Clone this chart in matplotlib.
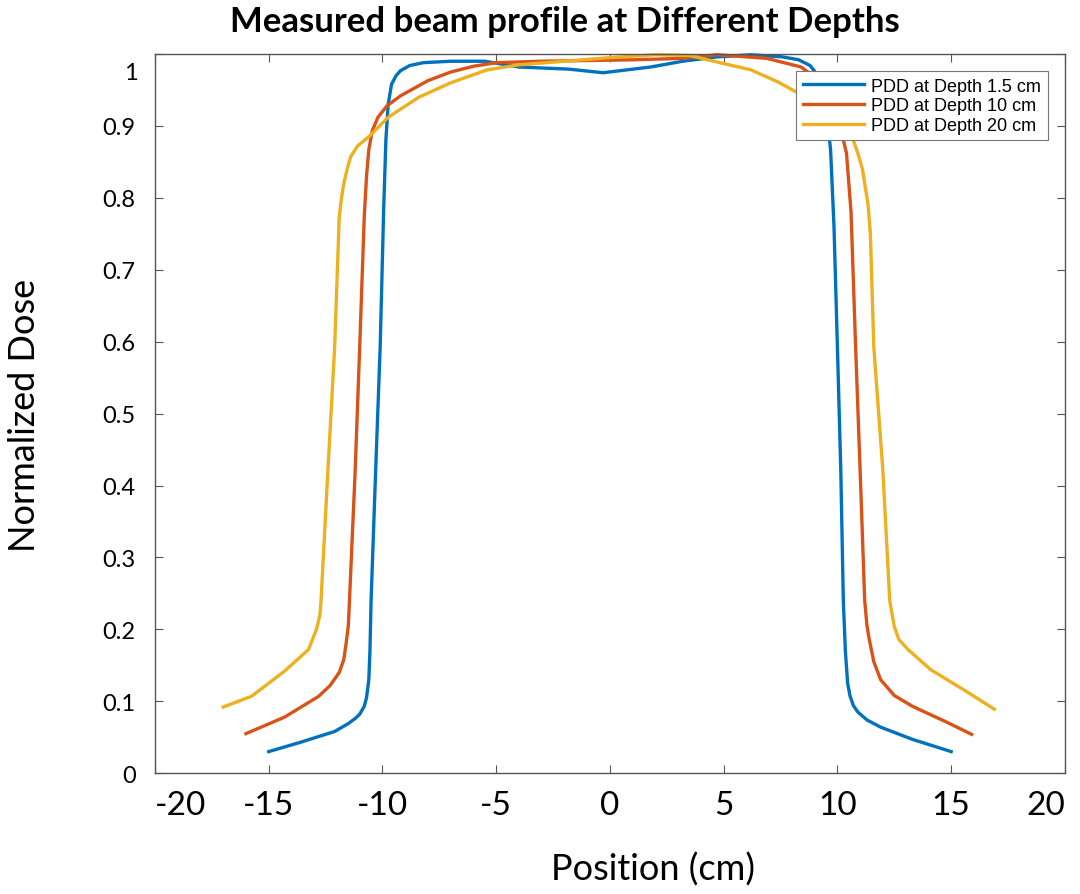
import matplotlib.pyplot as plt
import matplotlib.transforms as mtransforms
import numpy as np

# beam profiles
blue_x = [-15.0, -13.6, -12.1, -11.5, -11.2, -11.0, -10.8, -10.7, -10.6, -10.55, -10.5, -10.3,
          -10.1, -9.95, -9.85, -9.75, -9.6, -9.4, -9.2, -8.8, -8.2, -7.0, -5.5, -4.0, -1.8,
          -0.3, 1.8, 3.2, 4.7, 6.2, 7.6, 8.3, 8.8, 9.1, 9.35, 9.55, 9.7, 9.85, 10.0, 10.15,
          10.26, 10.35, 10.45, 10.55, 10.7, 10.9, 11.3, 11.9, 13.3, 15.0]
blue_y = [0.030, 0.043, 0.058, 0.069, 0.076, 0.082, 0.093, 0.105, 0.130, 0.170, 0.24, 0.42,
          0.593, 0.78, 0.88, 0.93, 0.958, 0.970, 0.977, 0.984, 0.988, 0.990, 0.990, 0.982,
          0.979, 0.974, 0.982, 0.990, 0.996, 0.999, 0.996, 0.992, 0.984, 0.972, 0.950, 0.910,
          0.867, 0.76, 0.593, 0.42, 0.24, 0.17, 0.125, 0.108, 0.094, 0.085, 0.074, 0.064,
          0.047, 0.030]

red_x = [-16.0, -14.3, -12.8, -12.3, -11.9, -11.7, -11.6, -11.5, -11.45, -11.2, -11.0, -10.8,
         -10.7, -10.6, -10.45, -10.2, -9.8, -9.2, -8.0, -7.0, -6.0, -5.0, -3.0, -1.0, 1.0,
         3.2, 4.7, 6.9, 8.4, 9.0, 9.5, 9.9, 10.15, 10.4, 10.6, 10.8, 11.0, 11.2, 11.3, 11.4,
         11.6, 11.9, 12.5, 13.3, 14.8, 15.9]
red_y = [0.055, 0.078, 0.107, 0.122, 0.140, 0.158, 0.180, 0.205, 0.24, 0.42, 0.593, 0.774,
         0.83, 0.867, 0.893, 0.912, 0.928, 0.942, 0.963, 0.975, 0.983, 0.988, 0.990, 0.991,
         0.992, 0.994, 0.999, 0.994, 0.982, 0.968, 0.945, 0.920, 0.895, 0.862, 0.78, 0.593,
         0.42, 0.24, 0.205, 0.186, 0.155, 0.130, 0.108, 0.093, 0.071, 0.054]

yel_x = [-17.0, -15.75, -14.3, -13.25, -12.9, -12.75, -12.7, -12.4, -12.1, -11.9, -11.8, -11.7,
         -11.55, -11.4, -11.1, -10.6, -9.75, -8.4, -7.0, -5.4, -4.0, -2.0, 0.0, 2.0, 3.5, 4.7,
         6.2, 7.4, 8.6, 9.8, 10.4, 10.7, 10.9, 11.1, 11.2, 11.35, 11.45, 11.6, 12.0, 12.3,
         12.4, 12.5, 12.7, 13.1, 14.1, 15.5, 16.9]
yel_y = [0.092, 0.107, 0.142, 0.172, 0.200, 0.220, 0.24, 0.42, 0.593, 0.774, 0.800, 0.820,
         0.840, 0.857, 0.872, 0.885, 0.912, 0.940, 0.960, 0.978, 0.985, 0.990, 0.995, 0.999,
         0.998, 0.989, 0.978, 0.961, 0.940, 0.912, 0.895, 0.880, 0.862, 0.840, 0.820, 0.790,
         0.750, 0.593, 0.42, 0.24, 0.222, 0.204, 0.186, 0.172, 0.144, 0.117, 0.089]

labels = ['PDD at Depth 1.5 cm', 'PDD at Depth 10 cm', 'PDD at Depth 20 cm']
colors = ['#0072BD', '#D95319', '#EDB120']
x_ticks = [-20, -15, -10, -5, 0, 5, 10, 15, 20]
y_ticks = [0, 0.1, 0.2, 0.3, 0.4, 0.5, 0.6, 0.7, 0.8, 0.9, 1]
y_labels = ['0', '0.1', '0.2', '0.3', '0.4', '0.5', '0.6', '0.7', '0.8', '0.9', '']

fig = plt.figure(figsize=(10.8, 8.95), dpi=100)
ax = fig.add_axes([0.1435, 0.135, 0.8425, 0.8035])

for xs, ys, c, lb in zip([blue_x, red_x, yel_x], [blue_y, red_y, yel_y], colors, labels):
    ax.plot(xs, ys, color=c, linewidth=2.4, label=lb, clip_on=False,
            solid_joinstyle='round')

ax.set_xlim(-20, 20)
ax.set_ylim(0, 1.0)
ax.set_xticks(x_ticks)
xl = ax.set_xticklabels([str(v) for v in x_ticks], fontname='Lato', fontsize=24)
xl[0].set_ha('left')
xl[-1].set_ha('right')
ax.set_yticks(y_ticks)
ax.set_yticklabels(y_labels, fontname='Lato', fontsize=17)
ax.tick_params(direction='in', top=True, right=True, length=6, width=0.8, color='#555555')
ax.tick_params(axis='x', pad=12)
ax.tick_params(axis='y', pad=14)
for s in ax.spines.values():
    s.set_color('#555555')
    s.set_linewidth(1.0)

# the "1" label sits a little below the top of the axis in the original
trans = mtransforms.blended_transform_factory(ax.transAxes, ax.transData)
ax.text(-0.019, 0.975, '1', transform=trans, fontname='Lato', fontsize=17,
        ha='right', va='center')

fig.text(0.523, 0.975, 'Measured beam profile at Different Depths', fontname='Lato',
         fontweight='bold', fontsize=25, ha='center', va='center')
fig.text(0.023, 0.536, 'Normalized Dose', fontname='Lato', fontsize=26, rotation=90,
         ha='center', va='center')
fig.text(0.605, 0.028, 'Position (cm)', fontname='Lato', fontsize=26, ha='center', va='center')

leg = ax.legend(loc='upper right', bbox_to_anchor=(0.981, 0.976), borderaxespad=0,
                fancybox=False, framealpha=1, edgecolor='#777777',
                prop={'family': 'Liberation Sans', 'size': 13}, handlelength=3.4,
                labelspacing=0.15, borderpad=0.35, handletextpad=0.4)
leg.get_frame().set_linewidth(0.8)

fig.savefig('out.png', dpi=100)
